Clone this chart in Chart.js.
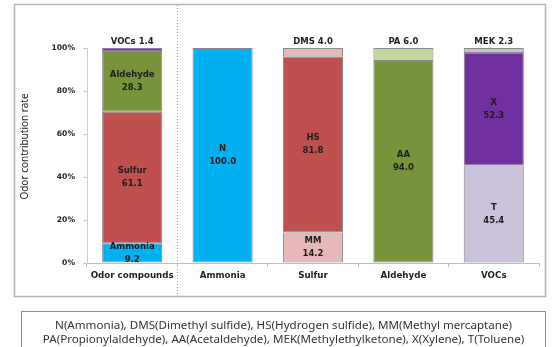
<!DOCTYPE html>
<html>
<head>
<meta charset="utf-8">
<script src="https://cdn.jsdelivr.net/npm/chart.js@4"></script>
<style>
  html, body { margin: 0; padding: 0; background: #fff; width: 553px; height: 347px; overflow: hidden; }
  #wrap { position: absolute; left: 0; top: 0; width: 553px; height: 347px; }
  #legendBox {
    position: absolute; left: 21px; top: 311px; width: 525px; height: 40px;
    border: 1px solid #8c8c8c; box-sizing: border-box;
    font-family: "Noto Sans", sans-serif; font-size: 11.6px; color: #333;
    text-align: center; line-height: 14px; padding-top: 6px; white-space: nowrap;
  }
</style>
</head>
<body>
<div id="wrap"><canvas id="c" width="553" height="347"></canvas></div>
<div id="legendBox">N(Ammonia), DMS(Dimethyl sulfide), HS(Hydrogen sulfide), MM(Methyl mercaptane)<br>PA(Propionylaldehyde), AA(Acetaldehyde), MEK(Methylethylketone), X(Xylene), T(Toluene)</div>
<script>
// ---- data ----
const categories = ['Odor compounds', 'Ammonia', 'Sulfur', 'Aldehyde', 'VOCs'];
const yTickValues = [0, 20, 40, 60, 80, 100];
const yTitle = 'Odor contribution rate';

const layer1Values = [9.2, 100.0, 14.2, 94.0, 45.4];
const layer1Names  = ['Ammonia', 'N', 'MM', 'AA', 'T'];
const layer2Values = [61.1, null, 81.8, 6.0, 52.3];
const layer2Names  = ['Sulfur', null, 'HS', 'PA', 'X'];
const layer3Values = [28.3, null, 4.0, null, 2.3];
const layer3Names  = ['Aldehyde', null, 'DMS', null, 'MEK'];
const layer4Values = [1.4, null, null, null, null];
const layer4Names  = ['VOCs', null, null, null, null];

// ---- styles ----
const BLUE = '#00b0f0', RED = '#c0504d', GREEN = '#77933c', PURPLE = '#7030a0';
const PINK = '#e6b9b8', LGREEN = '#c3d69b', LAV = '#ccc1da';
const layer1Colors = [BLUE, BLUE, PINK, GREEN, LAV];
const layer2Colors = [RED, BLUE, RED, LGREEN, PURPLE];
const layer3Colors = [GREEN, BLUE, PINK, LGREEN, LAV];
const layer4Colors = [PURPLE, BLUE, PINK, LGREEN, LAV];

function ds(values, names, colors, bw) {
  return {
    data: values, names: names, backgroundColor: colors,
    borderColor: 'rgba(40,40,40,0.55)', borderWidth: bw, borderSkipped: false,
    categoryPercentage: 1.0, barPercentage: 0.665
  };
}

const LABEL_FONT = 'bold 8.5px "DejaVu Sans", sans-serif';

const frame = {
  id: 'frame',
  beforeDraw(chart) {
    const ctx = chart.ctx;
    const xs = chart.scales.x, ys = chart.scales.y;
    ctx.save();
    ctx.strokeStyle = '#b4b4b4';
    ctx.lineWidth = 1.5;
    ctx.strokeRect(14.5, 4.5, 531, 292);
    // dotted separator
    const sep = (xs.getPixelForValue(0) + xs.getPixelForValue(1)) / 2;
    ctx.strokeStyle = '#9a9a9a';
    ctx.lineWidth = 1;
    ctx.setLineDash([1, 2]);
    ctx.beginPath();
    ctx.moveTo(Math.round(sep) + 0.5, 5);
    ctx.lineTo(Math.round(sep) + 0.5, 296);
    ctx.stroke();
    ctx.setLineDash([]);
    // y axis title
    ctx.translate(25, (ys.getPixelForValue(0) + ys.getPixelForValue(100)) / 2 - 9);
    ctx.rotate(-Math.PI / 2);
    ctx.font = '10px "Noto Sans", sans-serif';
    ctx.fillStyle = '#222';
    ctx.textAlign = 'center';
    ctx.textBaseline = 'middle';
    ctx.fillText(yTitle, 0, 0);
    ctx.restore();
  }
};

const barLabels = {
  id: 'barLabels',
  afterDatasetsDraw(chart) {
    const ctx = chart.ctx;
    ctx.save();
    ctx.font = LABEL_FONT;
    ctx.fillStyle = '#1e1e1e';
    ctx.textAlign = 'center';
    ctx.textBaseline = 'middle';
    chart.data.datasets.forEach((d, di) => {
      const meta = chart.getDatasetMeta(di);
      meta.data.forEach((el, i) => {
        const v = d.data[i];
        if (v === null || v === undefined) return;
        const name = d.names[i];
        if (v < 7) {
          ctx.fillText(name + ' ' + v.toFixed(1), el.x, chart.scales.y.getPixelForValue(100) - 6);
        } else {
          const cy = (el.y + el.base) / 2;
          ctx.fillText(name, el.x, cy - 6.5);
          ctx.fillText(v.toFixed(1), el.x, cy + 6.5);
        }
      });
    });
    ctx.restore();
  }
};

new Chart(document.getElementById('c'), {
  type: 'bar',
  data: {
    labels: categories,
    datasets: [
      ds(layer1Values, layer1Names, layer1Colors, 1),
      ds(layer2Values, layer2Names, layer2Colors, 1),
      ds(layer3Values, layer3Names, layer3Colors, 1),
      ds(layer4Values, layer4Names, layer4Colors, 0.5)
    ]
  },
  options: {
    responsive: false,
    animation: false,
    devicePixelRatio: 1,
    layout: { padding: { left: 14, right: 14, top: 48, bottom: 51 } },
    plugins: { legend: { display: false }, tooltip: { enabled: false } },
    scales: {
      x: {
        stacked: true,
        afterFit(s) { s.height = 33; },
        border: { display: true, color: '#bfbfbf', width: 1 },
        grid: { display: true, offset: true, drawOnChartArea: false, tickLength: 4, color: '#bfbfbf' },
        ticks: { color: '#1e1e1e', font: { family: 'DejaVu Sans', size: 8.7, weight: 'bold' }, padding: 4, maxRotation: 0, autoSkip: false }
      },
      y: {
        stacked: true,
        min: 0, max: 100,
        afterFit(s) { s.width = 73; },
        afterBuildTicks(s) { s.ticks = yTickValues.map(v => ({ value: v })); },
        border: { display: true, color: '#d0d0d0', width: 1 },
        grid: { display: true, drawOnChartArea: false, tickLength: 4, color: '#c8c8c8' },
        ticks: { color: '#1e1e1e', font: { family: 'DejaVu Sans', size: 7.6, weight: 'bold' }, padding: 8,
                 callback: v => v + '%' }
      }
    }
  },
  plugins: [frame, barLabels]
});
</script>
</body>
</html>
